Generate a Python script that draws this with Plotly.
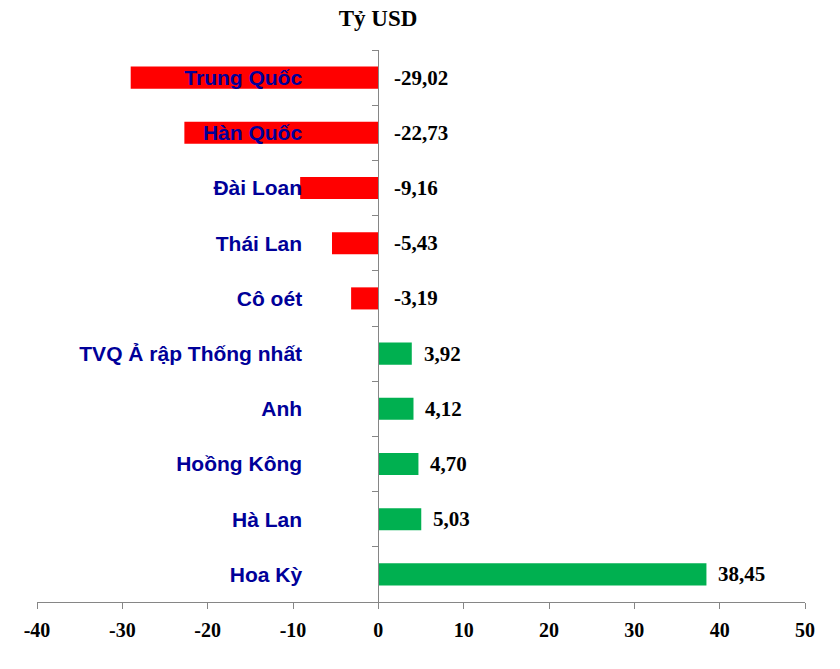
import plotly.graph_objects as go

countries = ["Trung Quốc", "Hàn Quốc", "Đài Loan", "Thái Lan", "Cô oét",
             "TVQ Ả rập Thống nhất", "Anh", "Hoồng Kông", "Hà Lan", "Hoa Kỳ"]
values = [-29.02, -22.73, -9.16, -5.43, -3.19, 3.92, 4.12, 4.70, 5.03, 38.45]
x_ticks = [-40, -30, -20, -10, 0, 10, 20, 30, 40, 50]

colors = ["#FF0000" if v < 0 else "#00B050" for v in values]
x_min, x_max = -40, 50
zero_pos = (0 - x_min) / (x_max - x_min)

fig = go.Figure()
fig.add_trace(go.Bar(
    y=countries, x=values, orientation="h",
    marker=dict(color=colors, line=dict(width=0)),
    width=0.4, hoverinfo="skip",
))

def fmt(v):
    return f"{v:.2f}".replace(".", ",")

for c, v in zip(countries, values):
    fig.add_annotation(
        x=max(v, 0), y=c, xref="x", yref="y",
        text=fmt(v), showarrow=False, xanchor="left", yanchor="middle",
        xshift=10 if v > 0 else 14,
        font=dict(family="Liberation Serif", size=21, color="black", weight="bold"),
    )

fig.update_layout(
    width=840, height=669,
    margin=dict(l=37, r=35, t=50, b=67),
    paper_bgcolor="white", plot_bgcolor="white",
    showlegend=False,
    bargap=0.6,
    title=dict(text="<b>Tỷ USD</b>", x=(37 + 341) / 840, xanchor="center", y=1 - 18 / 669, yanchor="middle",
               font=dict(family="Liberation Serif", size=23, color="black")),
    xaxis=dict(range=[x_min, x_max], tickvals=x_ticks, ticktext=[str(t) for t in x_ticks],
               showgrid=False, zeroline=False, showline=True, linecolor="#868686", linewidth=1,
               ticks="outside", ticklen=6, tickcolor="#868686", ticklabelstandoff=4,
               tickfont=dict(family="Liberation Serif", size=20, color="black", weight="bold"),
               fixedrange=True),
    yaxis=dict(categoryorder="array", categoryarray=countries, autorange="reversed",
               anchor="free", position=zero_pos,
               showgrid=False, zeroline=False, showline=True, linecolor="#868686", linewidth=1,
               ticks="outside", ticklen=6, tickcolor="#868686", tickson="boundaries",
               ticklabelstandoff=72,
               tickfont=dict(family="Liberation Sans", size=21, color="#000099", weight="bold"),
               fixedrange=True),
)

fig.write_html("out.html")
